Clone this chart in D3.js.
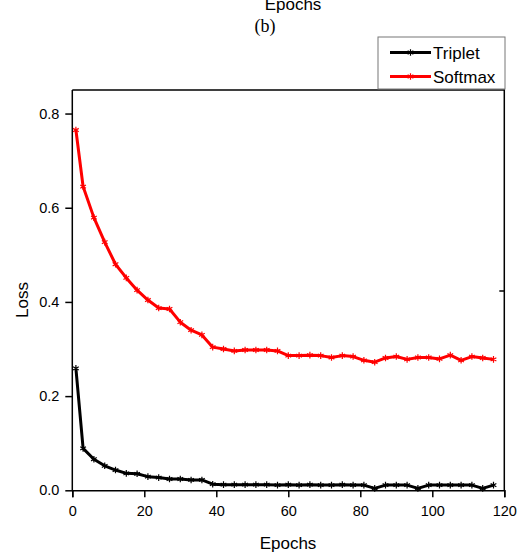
<!DOCTYPE html>
<html>
<head>
<meta charset="utf-8">
<script src="https://cdn.jsdelivr.net/npm/d3@7"></script>
<style>
  body { margin: 0; background: #fff; }
  text { font-family: Arial, "Liberation Sans", sans-serif; fill: #000; }
</style>
</head>
<body>
<div id="chart"></div>
<script>
const epochs = [1, 3, 6, 9, 12, 15, 18, 21, 24, 27, 30, 33, 36, 39, 42, 45, 48, 51, 54, 57,
  60, 63, 66, 69, 72, 75, 78, 81, 84, 87, 90, 93, 96, 99, 102, 105, 108, 111, 114, 117];

const softmaxLoss = [0.765, 0.645, 0.579, 0.527, 0.480, 0.451, 0.425, 0.404, 0.387, 0.385,
  0.357, 0.340, 0.330, 0.304, 0.300, 0.296, 0.298, 0.298, 0.298, 0.296,
  0.286, 0.286, 0.287, 0.286, 0.282, 0.286, 0.284, 0.276, 0.272, 0.281,
  0.284, 0.278, 0.282, 0.282, 0.279, 0.287, 0.276, 0.284, 0.281, 0.278];

const tripletLoss = [0.259, 0.089, 0.066, 0.052, 0.043, 0.036, 0.035, 0.029, 0.027, 0.024,
  0.024, 0.022, 0.022, 0.013, 0.012, 0.012, 0.012, 0.012, 0.012, 0.011,
  0.012, 0.011, 0.012, 0.011, 0.011, 0.012, 0.011, 0.011, 0.004, 0.011,
  0.011, 0.011, 0.004, 0.011, 0.011, 0.011, 0.011, 0.011, 0.004, 0.011];

const xTicks = [0, 20, 40, 60, 80, 100, 120];
const yTicks = [0.0, 0.2, 0.4, 0.6, 0.8];

const series = [
  {name: "Triplet", color: "#000", values: tripletLoss},
  {name: "Softmax", color: "#ff0000", values: softmaxLoss}
];

const width = 517, height = 554;
const svg = d3.select("#chart").append("svg")
  .attr("width", width).attr("height", height);

const x = d3.scaleLinear().domain([0, 120]).range([72.3, 504.3]);
const y = d3.scaleLinear().domain([0, 0.85]).range([490.3, 90]);

// frame (top + right)
svg.append("path")
  .attr("d", `M${x(0)},${y(0.85)}H${x(120)}V${y(0)}`)
  .attr("fill", "none").attr("stroke", "#000").attr("stroke-width", 1.5);

// stray tick on the right border
svg.append("line")
  .attr("x1", x(120) - 5).attr("x2", x(120))
  .attr("y1", 291).attr("y2", 291)
  .attr("stroke", "#000").attr("stroke-width", 1.5);

const xAxis = svg.append("g")
  .attr("transform", `translate(0,${y(0)})`)
  .call(d3.axisBottom(x).tickValues(xTicks).tickSize(7).tickPadding(8).tickFormat(d3.format("d")));
xAxis.select(".domain").attr("stroke-width", 1.5);
xAxis.selectAll(".tick line").attr("stroke-width", 1.5);
xAxis.selectAll("text").attr("font-size", 14.5).attr("font-family", "Arial, 'Liberation Sans', sans-serif");

const yAxis = svg.append("g")
  .attr("transform", `translate(${x(0)},0)`)
  .call(d3.axisLeft(y).tickValues(yTicks).tickSize(7).tickPadding(6).tickFormat(d3.format(".1f")));
yAxis.select(".domain").attr("stroke-width", 1.5)
  .attr("d", `M0,${y(0.85)}V${y(0)}`);
yAxis.selectAll(".tick line").attr("stroke-width", 1.5);
yAxis.selectAll("text").attr("font-size", 14.5).attr("font-family", "Arial, 'Liberation Sans', sans-serif");

const line = d3.line()
  .x((d, i) => x(epochs[i]))
  .y(d => y(d));

const star = d3.symbol().type(d3.symbolAsterisk).size(30);

series.forEach(s => {
  svg.append("path")
    .datum(s.values)
    .attr("d", line)
    .attr("fill", "none")
    .attr("stroke", s.color)
    .attr("stroke-width", 3)
    .attr("stroke-linejoin", "round");
  svg.append("g").selectAll("path")
    .data(s.values)
    .enter().append("path")
    .attr("d", star)
    .attr("transform", (d, i) => `translate(${x(epochs[i])},${y(d)})`)
    .attr("fill", "none")
    .attr("stroke", s.color)
    .attr("stroke-width", 1.2);
});

// axis titles
svg.append("text")
  .attr("x", 288).attr("y", 549)
  .attr("text-anchor", "middle").attr("font-size", 17)
  .text("Epochs");
svg.append("text")
  .attr("transform", "translate(28,300) rotate(-90)")
  .attr("text-anchor", "middle").attr("font-size", 17)
  .text("Loss");

// leftover caption of the panel above (cut at the top edge, as in the source)
svg.append("text")
  .attr("x", 293).attr("y", 10)
  .attr("text-anchor", "middle").attr("font-size", 17)
  .text("Epochs");
svg.append("text")
  .attr("x", 265).attr("y", 32)
  .attr("text-anchor", "middle").attr("font-size", 18)
  .style("font-family", "'Liberation Serif', 'Times New Roman', serif")
  .text("(b)");

// legend
const legend = svg.append("g");
legend.append("rect")
  .attr("x", 378).attr("y", 37).attr("width", 127).attr("height", 52)
  .attr("fill", "#fff").attr("stroke", "#777").attr("stroke-width", 1);
series.forEach((s, i) => {
  const ly = 52.5 + i * 24;
  legend.append("line")
    .attr("x1", 390).attr("x2", 431).attr("y1", ly).attr("y2", ly)
    .attr("stroke", s.color).attr("stroke-width", 3);
  legend.append("path")
    .attr("d", star)
    .attr("transform", `translate(410.5,${ly})`)
    .attr("fill", "none").attr("stroke", s.color).attr("stroke-width", 1.2);
  legend.append("text")
    .attr("x", 433).attr("y", ly + 6)
    .attr("font-size", 17)
    .text(s.name);
});
</script>
</body>
</html>
